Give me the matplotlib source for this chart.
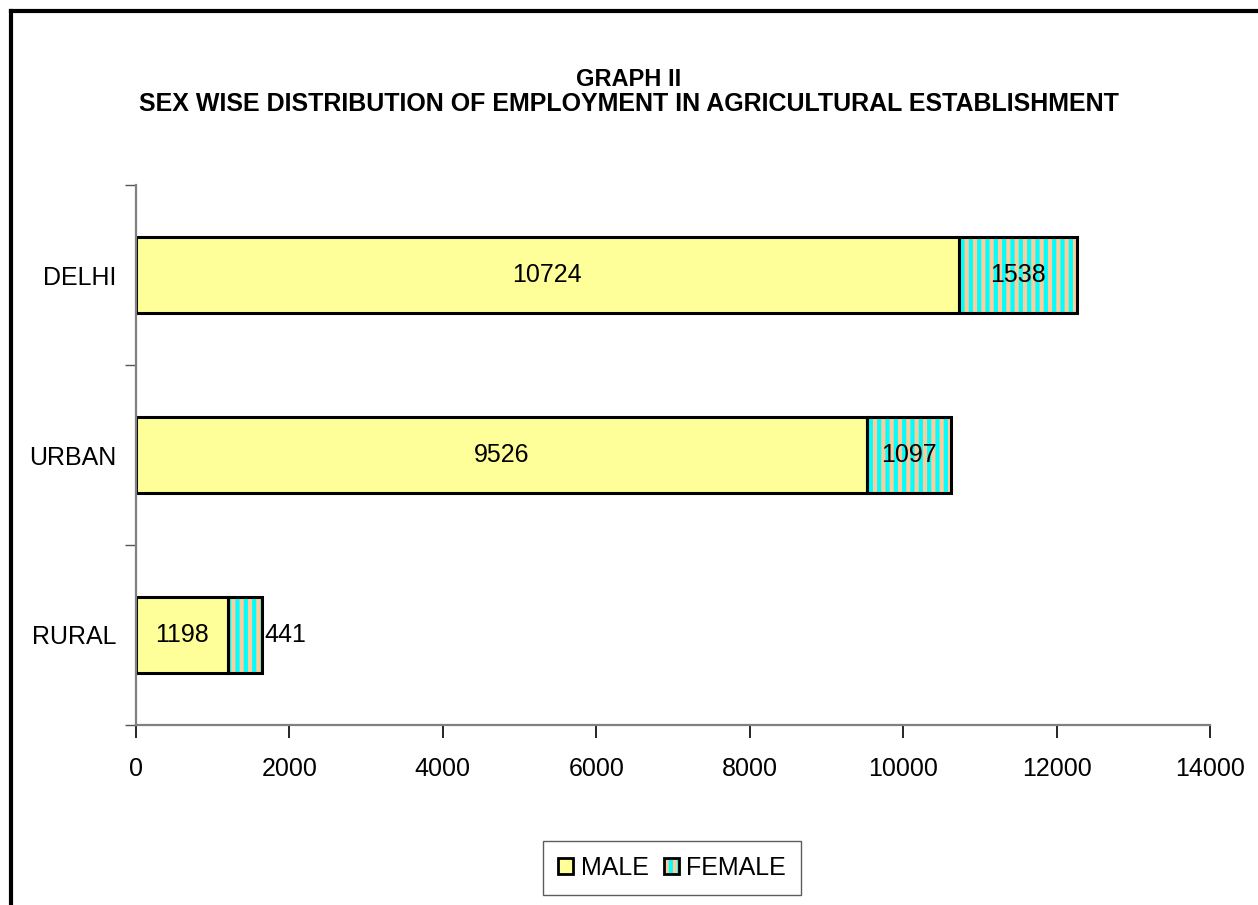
import matplotlib.pyplot as plt
from matplotlib.lines import Line2D
from matplotlib.patches import Patch
from matplotlib.legend_handler import HandlerTuple
import numpy as np

plt.rcParams['font.family'] = ['Liberation Sans', 'DejaVu Sans']

# data (bottom to top)
areas = ['RURAL', 'URBAN', 'DELHI']
male = [1198, 9526, 10724]
female = [441, 1097, 1538]
xticks = [0, 2000, 4000, 6000, 8000, 10000, 12000, 14000]

male_col = '#FFFF99'
fem_face = '#FFCC99'
fem_hatch = '#00FFFF'

plt.rcParams['hatch.linewidth'] = 3.0

fig = plt.figure(figsize=(12.58, 9.05), dpi=100)
ax = fig.add_axes([136 / 1258, 1 - 725 / 905, (1210 - 136) / 1258, (725 - 185) / 905])

y = np.arange(len(areas))
h = 0.42

ax.barh(y, male, height=h, color=male_col, edgecolor='black', linewidth=2.2, zorder=2)
# striped female segment: hatch first, then black outline on top
ax.barh(y, female, left=male, height=h, color=fem_face, edgecolor=fem_hatch,
        hatch='||', linewidth=0, zorder=2)
ax.barh(y, female, left=male, height=h, fill=False, edgecolor='black',
        linewidth=2.2, zorder=3)

fs = 18
# value labels
for i in range(len(areas)):
    ax.text(male[i] / 2, y[i], str(male[i]), ha='center', va='center', fontsize=fs, zorder=4)
    if female[i] < 800:
        ax.text(male[i] + female[i] + 40, y[i], str(female[i]), ha='left', va='center',
                fontsize=fs, zorder=4)
    else:
        ax.text(male[i] + female[i] / 2, y[i], str(female[i]), ha='center', va='center',
                fontsize=fs, zorder=4)

ax.set_xlim(0, 14000)
ax.set_ylim(-0.5, len(areas) - 0.5)
ax.set_xticks(xticks)
ax.set_xticklabels([str(v) for v in xticks], fontsize=fs)
ax.tick_params(axis='x', direction='out', length=9, width=1.2, pad=14, color='black')

# y ticks at category boundaries, labels at centres
ax.set_yticks(np.arange(-0.5, len(areas), 1.0))
ax.set_yticklabels([])
ax.set_yticks(y, minor=True)
ax.set_yticklabels(areas, minor=True, fontsize=fs)
ax.tick_params(axis='y', which='major', direction='out', length=8, width=1.0, color='#555555')
ax.tick_params(axis='y', which='minor', length=0, pad=14)

for s in ['top', 'right']:
    ax.spines[s].set_visible(False)
for s in ['left', 'bottom']:
    ax.spines[s].set_color('#808080')
    ax.spines[s].set_linewidth(1.6)

fig.text(0.5, 1 - 79 / 905, 'GRAPH II', ha='center', va='center', fontsize=17, fontweight='bold')
fig.text(0.5, 1 - 104 / 905, 'SEX WISE DISTRIBUTION OF EMPLOYMENT IN AGRICULTURAL ESTABLISHMENT',
         ha='center', va='center', fontsize=18, fontweight='bold')

male_h = Patch(facecolor=male_col, edgecolor='black', linewidth=2.0)
fem_h = (Patch(facecolor=fem_face, edgecolor=fem_hatch, hatch='||', linewidth=0),
         Patch(fill=False, edgecolor='black', linewidth=2.0))
leg = fig.legend([male_h, fem_h], ['MALE', 'FEMALE'],
                 handler_map={tuple: HandlerTuple(ndivide=1, pad=0)},
                 loc='center', bbox_to_anchor=(672 / 1258, 1 - 868 / 905),
                 ncol=2, fontsize=fs, frameon=True, fancybox=False,
                 handlelength=0.6, handleheight=0.6, handletextpad=0.3, columnspacing=0.6,
                 borderpad=0.6, borderaxespad=0)
leg.get_frame().set_edgecolor('#333333')
leg.get_frame().set_linewidth(1.0)

# outer frame (top and left only)
fig.add_artist(Line2D([11 / 1258, 1], [1 - 11 / 905, 1 - 11 / 905], color='black', lw=3))
fig.add_artist(Line2D([11 / 1258, 11 / 1258], [0, 1 - 11 / 905], color='black', lw=3))

fig.savefig('out.png', dpi=100)
